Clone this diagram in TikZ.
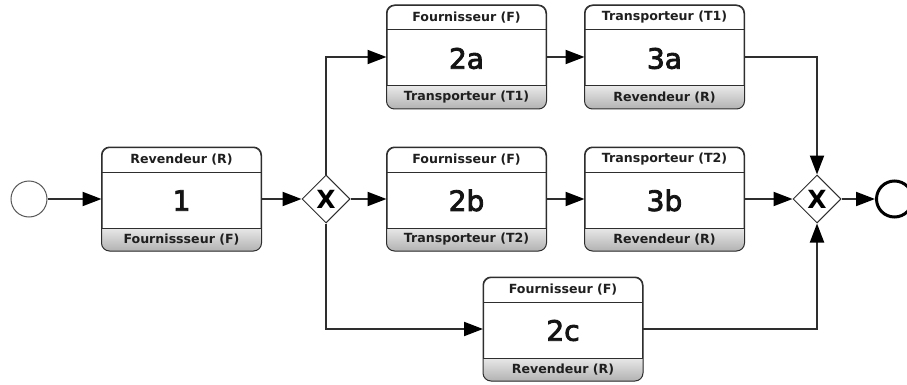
\documentclass[tikz,border=0pt]{standalone}
\usepackage{fontspec}
\setmainfont{DejaVu Sans}
\newfontfamily\numfont[FakeBold=3]{DejaVu Sans}
\usetikzlibrary{arrows.meta,shapes.geometric,calc}
\definecolor{edge}{HTML}{2E2E2E}
\definecolor{footA}{HTML}{E8E8E8}
\definecolor{footB}{HTML}{B2B2B2}
\tikzset{
 taskbox/.style={draw=edge,line width=1pt,rounded corners=8pt,minimum width=159pt,minimum height=103pt,inner sep=0pt,fill=white},
 lbl/.style={font=\fontsize{12.6}{13}\selectfont\bfseries,text=black!88,inner sep=0pt},
 num/.style={font=\numfont\fontsize{28}{30}\selectfont,text=black!92,inner sep=0pt},
 gate/.style={diamond,draw=edge,line width=1pt,fill=white,minimum width=48pt,minimum height=48pt,inner sep=0pt,aspect=1,font=\fontsize{25}{26}\selectfont\bfseries},
 conn/.style={draw=edge,line width=2pt,-{Triangle[length=19pt,width=14pt,fill=black,color=black]}},
}
\newcommand\chor[6]{%
 \node[taskbox] (#1) at (#2,#3) {};
 \begin{scope}
 \clip[rounded corners=8pt] (#1.north west) rectangle (#1.south east);
 \shade[top color=footA,bottom color=footB] ($(#1.south west)+(0pt,23pt)$) rectangle (#1.south east);
 \end{scope}
 \draw[edge,line width=1pt] ($(#1.north west)+(0pt,-25pt)$) -- ($(#1.north east)+(0pt,-25pt)$);
 \draw[edge,line width=1pt] ($(#1.south west)+(0pt,23pt)$) -- ($(#1.south east)+(0pt,23pt)$);
 \draw[edge,line width=1pt,rounded corners=8pt] (#1.north west) rectangle (#1.south east);
 \node[lbl] (#1-top) at ($(#1.north)+(0pt,-12.5pt)$) {#4};
 \node[num] (#1-num) at ($(#1.center)+(0pt,-1.5pt)$) {#5};
 \node[lbl] (#1-bot) at ($(#1.south)+(0pt,11.5pt)$) {#6};
}
\begin{document}
\begin{tikzpicture}[x=1pt,y=-1pt]
\useasboundingbox (0,0) rectangle (907,385);
\node[circle,draw=edge!80,line width=1pt,minimum size=36pt,inner sep=0pt,fill=white] (s) at (29,199) {};
\chor{t1}{181.5}{199}{Revendeur (R)}{1}{Fournissseur (F)}
\chor{a2}{466.5}{57}{Fournisseur (F)}{2a}{Transporteur (T1)}
\chor{b2}{466.5}{199}{Fournisseur (F)}{2b}{Transporteur (T2)}
\chor{a3}{664.5}{57}{Transporteur (T1)}{3a}{Revendeur (R)}
\chor{b3}{664.5}{199}{Transporteur (T2)}{3b}{Revendeur (R)}
\chor{c2}{563}{329}{Fournisseur (F)}{2c}{Revendeur (R)}
\node[gate] (g1) at (326,199) {X};
\node[gate] (g2) at (817,199) {X};
\node[circle,draw=black,line width=3pt,minimum size=36pt,inner sep=0pt,fill=white] (e) at (894.5,199) {};
\draw[conn] (s) -- (t1.west);
\draw[conn] (t1.east) -- (g1.west);
\draw[conn] (g1.north) |- (a2.west);
\draw[conn] (g1.east) -- (b2.west);
\draw[conn] (g1.south) |- (c2.west);
\draw[conn] (a2.east) -- (a3.west);
\draw[conn] (b2.east) -- (b3.west);
\draw[conn] (a3.east) -| (g2.north);
\draw[conn] (b3.east) -- (g2.west);
\draw[conn] (c2.east) -| (g2.south);
\draw[conn] (g2.east) -- (e.west);
\end{tikzpicture}
\end{document}
